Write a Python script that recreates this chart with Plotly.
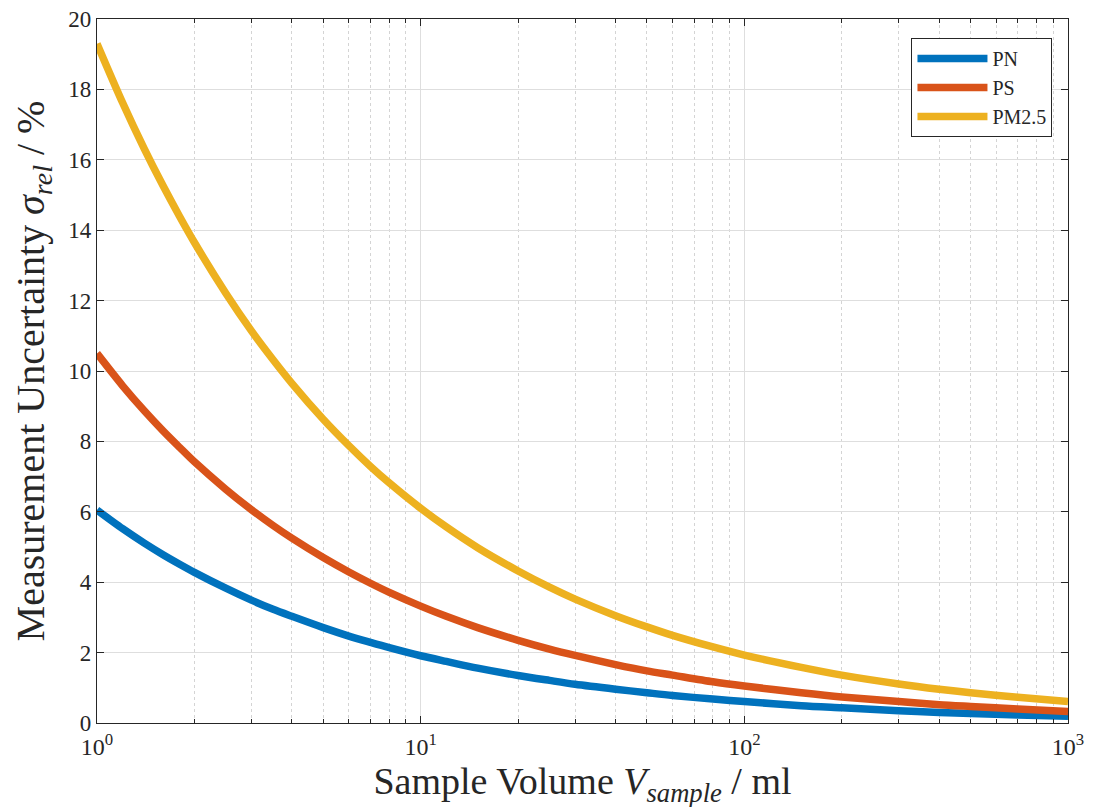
import plotly.graph_objects as go

volume = [1, 1.2, 1.4, 1.6, 1.8, 2, 2.5, 3, 3.5, 4, 5, 6, 7, 8, 10, 12, 15, 20, 25, 30,
          40, 50, 60, 80, 100, 150, 200, 300, 400, 500, 700, 1000]
pn = [6.05, 5.52, 5.11, 4.78, 4.51, 4.28, 3.83, 3.49, 3.23, 3.03, 2.71, 2.47, 2.29, 2.14, 1.91, 1.75,
      1.56, 1.35, 1.21, 1.1, 0.96, 0.86, 0.78, 0.68, 0.61, 0.49, 0.43, 0.35, 0.3, 0.27, 0.23, 0.19]
ps = [10.5, 9.58, 8.87, 8.3, 7.83, 7.42, 6.64, 6.06, 5.61, 5.25, 4.7, 4.29, 3.97, 3.71, 3.32, 3.03,
      2.71, 2.35, 2.1, 1.92, 1.66, 1.48, 1.36, 1.17, 1.05, 0.86, 0.74, 0.61, 0.52, 0.47, 0.4, 0.33]
pm25 = [19.3, 17.62, 16.31, 15.26, 14.39, 13.65, 12.21, 11.14, 10.32, 9.65, 8.63, 7.88, 7.29, 6.82, 6.1, 5.57,
        4.98, 4.32, 3.86, 3.52, 3.05, 2.73, 2.49, 2.16, 1.93, 1.58, 1.36, 1.11, 0.96, 0.86, 0.73, 0.61]

series_names = ["PN", "PS", "PM2.5"]
colors = ["#0072BD", "#D95319", "#EDB120"]

x_tickvals = [1, 10, 100, 1000]
x_ticktext = ["10<sup>0</sup>", "10<sup>1</sup>", "10<sup>2</sup>", "10<sup>3</sup>"]
x_minorvals = [m * d for d in (1, 10, 100) for m in range(2, 10)]
y_tickvals = list(range(0, 21, 2))

FONT = "Liberation Serif, DejaVu Serif, serif"
AX = "#262626"

fig = go.Figure()
for name, ys, c in zip(series_names, [pn, ps, pm25], colors):
    fig.add_trace(go.Scatter(x=volume, y=ys, name=name, mode="lines",
                             line=dict(color=c, width=7.5, shape="spline", smoothing=0.8)))

fig.update_layout(
    width=1094, height=807,
    margin=dict(l=89, r=34, t=11, b=92),
    paper_bgcolor="white", plot_bgcolor="white",
    font=dict(family=FONT, color=AX, size=20),
    showlegend=True,
    legend=dict(x=0.984, xanchor="right", y=0.973, yanchor="top",
                bgcolor="white", bordercolor=AX, borderwidth=1,
                itemwidth=70,
                font=dict(family=FONT, size=20, color=AX)),
    xaxis=dict(
        type="log", range=[0, 3], automargin=False,
        tickmode="array", tickvals=x_tickvals, ticktext=x_ticktext,
        ticks="inside", ticklen=7, tickcolor=AX, tickwidth=1,
        showline=True, linecolor=AX, linewidth=1.2, mirror="ticks",
        showgrid=True, gridcolor="#dedede", gridwidth=1,
        zeroline=False, ticklabelstandoff=2, ticklabeloverflow="allow",
        tickfont=dict(family=FONT, size=24, color=AX),
        minor=dict(tickmode="array", tickvals=x_minorvals, ticks="inside", ticklen=4,
                   tickcolor=AX, showgrid=True, gridcolor="#d4d4d4", griddash="dot", gridwidth=1),
        title=dict(text="Sample Volume <i>V<sub>sample</sub></i> / ml",
                   font=dict(family=FONT, size=38, color=AX), standoff=0),
    ),
    yaxis=dict(
        range=[0, 20], automargin=False,
        tickmode="array", tickvals=y_tickvals,
        ticks="inside", ticklen=7, tickcolor=AX, tickwidth=1,
        showline=True, linecolor=AX, linewidth=1.2, mirror="ticks",
        showgrid=True, gridcolor="#dedede", gridwidth=1,
        zeroline=False, ticklabeloverflow="allow",
        tickfont=dict(family=FONT, size=23, color=AX),
        title=dict(text="Measurement Uncertainty <i>σ<sub>rel</sub></i> / %",
                   font=dict(family=FONT, size=40, color=AX), standoff=13),
    ),
)

fig.write_html("out.html")
